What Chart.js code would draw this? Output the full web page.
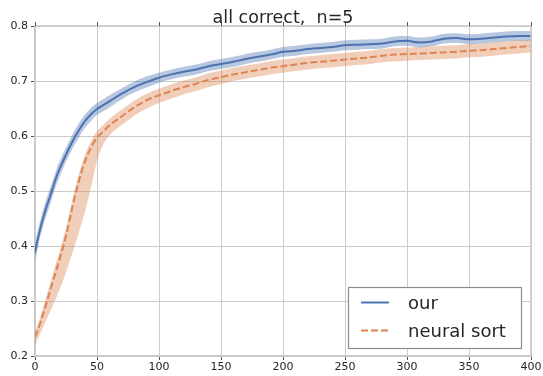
<!DOCTYPE html>
<html>
<head>
<meta charset="utf-8">
<script src="https://cdn.jsdelivr.net/npm/chart.js@4/dist/chart.umd.min.js"></script>
<style>
html,body{margin:0;padding:0;background:#fff;}
#wrap{width:543px;height:376px;position:relative;}
</style>
</head>
<body>
<div id="wrap"><canvas id="c" width="543" height="376"></canvas></div>
<script>
const title = "all correct,  n=5";
const seriesNames = ["our", "neural sort"];
const steps = [0,2,5,8,10,12,15,18,20,25,30,35,40,45,50,55,60,70,80,90,100,110,120,130,140,150,160,170,180,190,200,210,220,230,240,250,260,270,280,290,300,310,320,330,340,350,360,370,380,390,400];
const ourMean = [0.387,0.41,0.438,0.462,0.476,0.489,0.51,0.53,0.541,0.566,0.589,0.609,0.626,0.639,0.649,0.656,0.663,0.677,0.689,0.698,0.706,0.712,0.717,0.721,0.727,0.731,0.735,0.740,0.744,0.748,0.753,0.755,0.758,0.760,0.762,0.765,0.766,0.767,0.768,0.772,0.773,0.770,0.772,0.777,0.778,0.776,0.777,0.779,0.781,0.782,0.782];
const ourUp = [0.015,0.015,0.015,0.015,0.015,0.015,0.014,0.014,0.014,0.013,0.013,0.013,0.012,0.012,0.011,0.011,0.011,0.010,0.010,0.010,0.009,0.009,0.009,0.009,0.009,0.009,0.009,0.009,0.009,0.009,0.009,0.009,0.009,0.009,0.009,0.009,0.009,0.009,0.009,0.009,0.009,0.009,0.009,0.009,0.009,0.009,0.009,0.009,0.009,0.009,0.009];
const ourDown = [0.015,0.015,0.015,0.015,0.015,0.015,0.014,0.014,0.014,0.013,0.013,0.013,0.012,0.012,0.011,0.011,0.011,0.010,0.010,0.010,0.009,0.009,0.009,0.009,0.009,0.009,0.009,0.009,0.009,0.009,0.009,0.009,0.009,0.009,0.009,0.009,0.009,0.009,0.009,0.009,0.009,0.009,0.009,0.009,0.009,0.009,0.009,0.009,0.009,0.009,0.009];
const nsMean = [0.235,0.245,0.265,0.287,0.302,0.317,0.34,0.362,0.377,0.418,0.469,0.515,0.552,0.578,0.597,0.608,0.619,0.636,0.652,0.665,0.674,0.682,0.689,0.695,0.702,0.707,0.712,0.716,0.72,0.724,0.727,0.73,0.733,0.735,0.737,0.739,0.741,0.743,0.746,0.748,0.749,0.750,0.751,0.752,0.753,0.755,0.756,0.758,0.760,0.762,0.764];
const nsUp = [0.010,0.011,0.012,0.013,0.014,0.014,0.015,0.015,0.015,0.015,0.014,0.013,0.012,0.012,0.012,0.012,0.012,0.012,0.012,0.012,0.012,0.012,0.012,0.012,0.012,0.012,0.012,0.012,0.012,0.012,0.012,0.012,0.012,0.012,0.012,0.012,0.012,0.012,0.012,0.012,0.012,0.012,0.012,0.012,0.012,0.012,0.012,0.012,0.012,0.012,0.012];
const nsDown = [0.015,0.015,0.020,0.027,0.032,0.037,0.045,0.051,0.055,0.066,0.083,0.093,0.092,0.073,0.042,0.024,0.018,0.016,0.015,0.015,0.014,0.014,0.013,0.013,0.013,0.013,0.012,0.012,0.012,0.012,0.012,0.012,0.012,0.012,0.012,0.012,0.012,0.012,0.012,0.012,0.012,0.012,0.012,0.012,0.012,0.012,0.012,0.012,0.012,0.012,0.012];
const yTicks = [0.2,0.3,0.4,0.5,0.6,0.7,0.8];
const xTicks = [0,50,100,150,200,250,300,350,400];

const BLUE = '#4c72b0', ORANGE = '#dd8452';
const pts = (ys) => steps.map((x,i)=>({x:x,y:ys[i]}));
const add = (m,s,sign) => m.map((v,i)=>v+sign*s[i]);

const FONT = "'DejaVu Sans', sans-serif";

const extras = {
  id:'extras',
  afterDraw(chart){
    const ctx = chart.ctx, a = chart.chartArea, xs = chart.scales.x;
    ctx.save();
    ctx.strokeStyle = '#c8c8c8'; ctx.lineWidth = 1.5;
    ctx.beginPath();
    ctx.moveTo(a.left, a.top); ctx.lineTo(a.right, a.top); ctx.lineTo(a.right, a.bottom);
    ctx.stroke();
    ctx.strokeStyle = '#555'; ctx.lineWidth = 1;
    xTicks.forEach(v=>{
      const px = Math.round(xs.getPixelForValue(v))+0.5;
      ctx.beginPath(); ctx.moveTo(px, a.top); ctx.lineTo(px, a.top-4); ctx.stroke();
    });
    ctx.fillStyle = '#262626';
    ctx.font = "17.5px " + FONT;
    ctx.textAlign = 'center'; ctx.textBaseline = 'alphabetic';
    ctx.fillText(title, (a.left+a.right)/2, 23);
    // legend
    const lx = 348, ly = 287, lw = 173, lh = 61;
    ctx.fillStyle = '#ffffff';
    ctx.fillRect(lx, ly, lw, lh);
    ctx.strokeStyle = '#8c8c8c'; ctx.lineWidth = 1.2;
    ctx.strokeRect(lx+0.5, ly+0.5, lw, lh);
    ctx.lineWidth = 2;
    ctx.strokeStyle = BLUE; ctx.setLineDash([]);
    ctx.beginPath(); ctx.moveTo(361, 302.5); ctx.lineTo(389, 302.5); ctx.stroke();
    ctx.strokeStyle = ORANGE; ctx.setLineDash([7,3]);
    ctx.beginPath(); ctx.moveTo(361, 330.5); ctx.lineTo(389, 330.5); ctx.stroke();
    ctx.setLineDash([]);
    ctx.fillStyle = '#262626';
    ctx.font = "18px " + FONT;
    ctx.textAlign = 'left'; ctx.textBaseline = 'alphabetic';
    ctx.fillText(seriesNames[0], 408, 309);
    ctx.fillText(seriesNames[1], 408, 337);
    ctx.restore();
  }
};

const common = {pointRadius:0, cubicInterpolationMode:'monotone'};
new Chart(document.getElementById('c'), {
  type:'line',
  data:{
    datasets:[
      Object.assign({label:'ns_hi', data:pts(add(nsMean,nsUp,1)), borderWidth:0, fill:'+1', backgroundColor:'rgba(221,132,82,0.4)', borderColor:'rgba(0,0,0,0)', order:5}, common),
      Object.assign({label:'ns_lo', data:pts(add(nsMean,nsDown,-1)), borderWidth:0, fill:false, borderColor:'rgba(0,0,0,0)', order:5}, common),
      Object.assign({label:'our_hi', data:pts(add(ourMean,ourUp,1)), borderWidth:0, fill:'+1', backgroundColor:'rgba(76,114,176,0.4)', borderColor:'rgba(0,0,0,0)', order:4}, common),
      Object.assign({label:'our_lo', data:pts(add(ourMean,ourDown,-1)), borderWidth:0, fill:false, borderColor:'rgba(0,0,0,0)', order:4}, common),
      Object.assign({label:seriesNames[1], data:pts(nsMean), borderColor:ORANGE, borderWidth:2, borderDash:[7,3], fill:false, order:1}, common),
      Object.assign({label:seriesNames[0], data:pts(ourMean), borderColor:BLUE, borderWidth:2, fill:false, order:0}, common)
    ]
  },
  options:{
    responsive:false, animation:false,
    layout:{padding:{top:26,right:12,left:0,bottom:0}},
    plugins:{legend:{display:false}, tooltip:{enabled:false}, title:{display:false}},
    scales:{
      x:{type:'linear', min:0, max:400,
        afterBuildTicks(s){ s.ticks = xTicks.map(v=>({value:v})); },
        afterFit(s){ s.height = 20; },
        grid:{color:'#cccccc', lineWidth:1, drawTicks:true, tickLength:4, tickColor:'#555'},
        border:{color:'#c8c8c8', width:1.5},
        ticks:{font:{family:FONT,size:11}, color:'#262626', padding:1, maxRotation:0, callback:v=>String(v)}
      },
      y:{type:'linear', min:0.2, max:0.8,
        afterBuildTicks(s){ s.ticks = yTicks.map(v=>({value:v})); },
        afterFit(s){ s.width = 35; },
        grid:{color:'#cccccc', lineWidth:1, drawTicks:true, tickLength:4, tickColor:'#555'},
        border:{color:'#c8c8c8', width:1.5},
        ticks:{font:{family:FONT,size:11}, color:'#262626', padding:3, callback:v=>Number(v).toFixed(1)}
      }
    }
  },
  plugins:[extras]
});
</script>
</body>
</html>
